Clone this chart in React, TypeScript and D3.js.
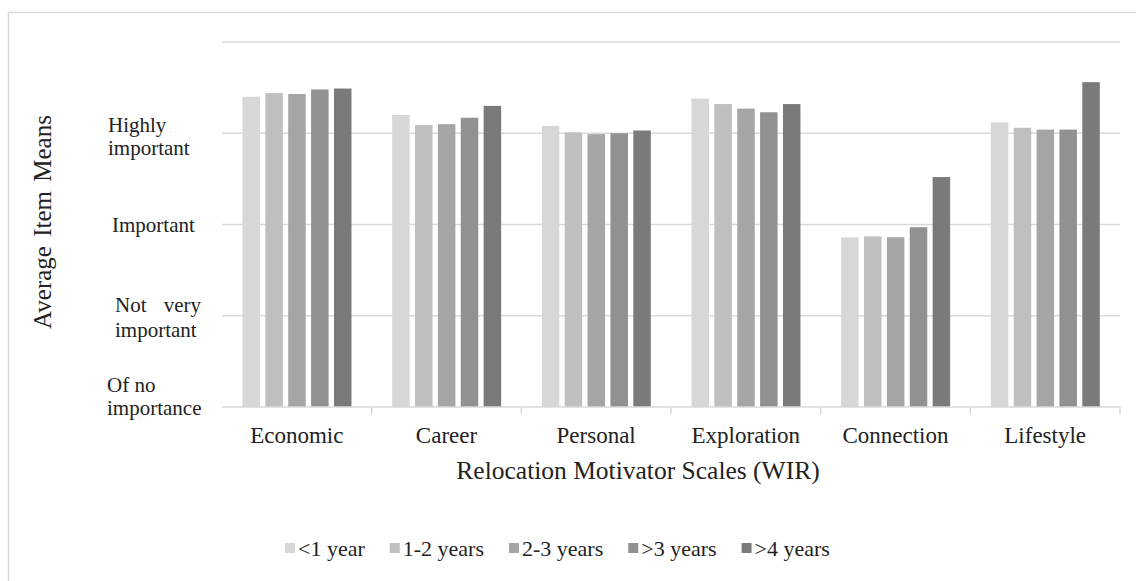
import React, { useMemo } from "react";
import * as d3 from "d3";

const categories = ["Economic", "Career", "Personal", "Exploration", "Connection", "Lifestyle"];
const seriesNames = ["<1 year", "1-2 years", "2-3 years", ">3 years", ">4 years"];
const lessThan1 = [4.40, 4.20, 4.08, 4.38, 2.86, 4.12];
const oneToTwo = [4.44, 4.09, 4.01, 4.32, 2.87, 4.06];
const twoToThree = [4.43, 4.10, 3.99, 4.27, 2.86, 4.04];
const moreThan3 = [4.48, 4.17, 4.00, 4.23, 2.97, 4.04];
const moreThan4 = [4.49, 4.30, 4.03, 4.32, 3.52, 4.56];
const seriesValues = [lessThan1, oneToTwo, twoToThree, moreThan3, moreThan4];
const yTickValues = [1, 2, 3, 4, 5];
const yTickLabels = ["Of no importance", "Not very important", "Important", "Highly important", ""];
const colors = ["#d7d7d7", "#bfbfbf", "#a5a5a5", "#919191", "#7a7a7a"];

const FONT = "Liberation Serif, Tinos, Times New Roman, Times, DejaVu Serif, serif";

export default function App() {
  const W = 1136, H = 581;
  const plotLeft = 222, plotRight = 1120, plotTop = 42, plotBottom = 407;

  const x = d3.scaleBand<string>().domain(categories).range([plotLeft, plotRight]).padding(0);
  const inner = d3
    .scaleBand<string>()
    .domain(seriesNames)
    .range([20.5, x.bandwidth() - 20.2])
    .paddingInner(0.235)
    .paddingOuter(0);
  const y = d3.scaleLinear().domain([1, 5]).range([plotBottom, plotTop]);

  const legendLayout = useMemo(() => {
    const c = document.createElement("canvas").getContext("2d");
    const widths = seriesNames.map((s) => {
      if (c) {
        c.font = "22px " + FONT;
        return c.measureText(s).width;
      }
      return s.length * 10;
    });
    let cx = 285;
    return widths.map((w) => {
      const pos = cx;
      cx += 10 + 3 + w + 25;
      return pos;
    });
  }, []);

  const grid = "#d9d9d9";
  const ts = { fontFamily: FONT };

  const yLabelLayout: Record<number, { x: number; offs: number[] }> = {
    1: { x: 107, offs: [-15, 8] },
    2: { x: 115, offs: [-4, 21] },
    3: { x: 112, offs: [7] },
    4: { x: 108, offs: [-1, 22] },
  };

  return (
    <svg
      width={W}
      height={H}
      style={{ position: "absolute", left: 0, top: 0, background: "#fff", fontFamily: FONT }}
    >
      <rect x={8.5} y={12.5} width={1400} height={900} fill="#fff" stroke={grid} strokeWidth={1.5} />
      {yTickValues.slice(1).map((v) => (
        <line key={v} x1={plotLeft} x2={plotRight} y1={y(v)} y2={y(v)} stroke={grid} strokeWidth={1.5} />
      ))}
      {categories.map((cat, ci) => (
        <g key={cat} transform={`translate(${x(cat)},0)`}>
          {seriesNames.map((s, si) => {
            const v = seriesValues[si][ci];
            return (
              <rect
                key={s}
                x={inner(s)}
                y={y(v)}
                width={inner.bandwidth()}
                height={y(1) - y(v)}
                fill={colors[si]}
              />
            );
          })}
        </g>
      ))}
      <line x1={plotLeft} x2={plotRight} y1={plotBottom} y2={plotBottom} stroke={grid} strokeWidth={1.5} />
      {categories.map((cat) => (
        <line
          key={"t" + cat}
          x1={(x(cat) as number) + x.bandwidth()}
          x2={(x(cat) as number) + x.bandwidth()}
          y1={plotBottom}
          y2={plotBottom + 7}
          stroke={grid}
          strokeWidth={1.5}
        />
      ))}
      {categories.map((cat) => (
        <text
          key={"l" + cat}
          x={(x(cat) as number) + x.bandwidth() / 2}
          y={443}
          textAnchor="middle"
          fontSize={23}
          fill="#222"
          style={ts}
        >
          {cat}
        </text>
      ))}
      <text x={638} y={479} textAnchor="middle" fontSize={25.5} fill="#222" style={ts}>
        Relocation Motivator Scales (WIR)
      </text>
      {yTickValues.map((v, i) => {
        const lay = yLabelLayout[v];
        const label = yTickLabels[i];
        if (!lay || !label) return null;
        const words = label.split(" ");
        const lines = lay.offs.length === 1 ? [label] : [words.slice(0, -1).join(" "), words[words.length - 1]];
        return (
          <g key={"y" + v}>
            {lines.map((ln, li) => {
              if (v === 2 && li === 0) {
                return (
                  <g key={li}>
                    <text x={lay.x} y={y(v) + lay.offs[li]} fontSize={21} fill="#222" style={ts}>Not</text>
                    <text x={201} y={y(v) + lay.offs[li]} fontSize={21} fill="#222" textAnchor="end" style={ts}>very</text>
                  </g>
                );
              }
              return (
                <text key={li} x={lay.x} y={y(v) + lay.offs[li]} fontSize={21} fill="#222" style={ts}>
                  {ln}
                </text>
              );
            })}
          </g>
        );
      })}
      <text
        transform={`translate(51,222) rotate(-90)`}
        textAnchor="middle"
        fontSize={25}
        fill="#222"
        wordSpacing={3}
        style={ts}
      >
        Average Item Means
      </text>
      {seriesNames.map((s, i) => (
        <g key={"lg" + s}>
          <rect x={legendLayout[i]} y={543} width={10} height={10} fill={colors[i]} />
          <text x={legendLayout[i] + 13} y={556} fontSize={22} fill="#222" style={ts}>
            {s}
          </text>
        </g>
      ))}
    </svg>
  );
}
